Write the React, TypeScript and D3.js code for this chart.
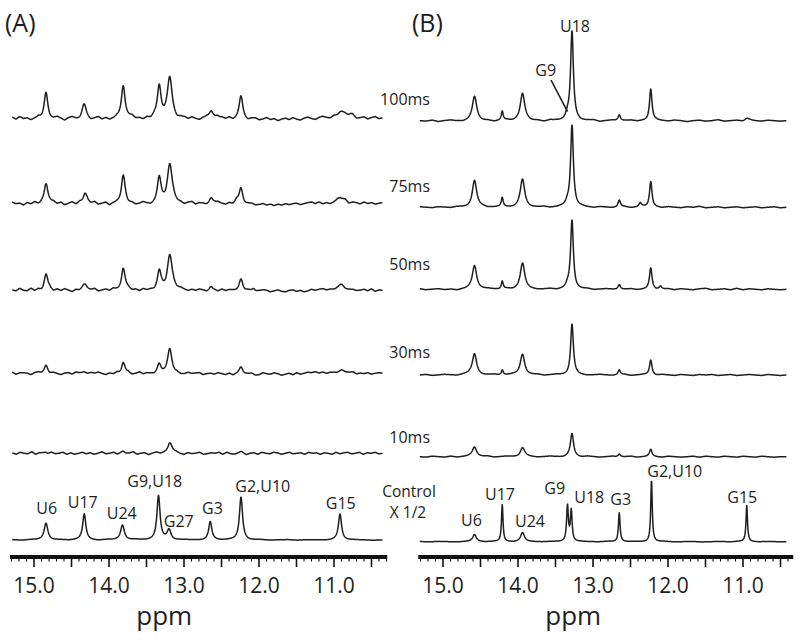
import React from 'react';
import * as d3 from 'd3';

type Peak = [number, number, number]; // [ppm, intensity, half-width (ppm)]

// ---------- Panel A peaks ----------
const peaksA100: Peak[] = [[14.84, 26, 0.03], [14.33, 14, 0.035], [13.81, 34, 0.03], [13.33, 32, 0.03], [13.19, 40, 0.04], [12.64, 8, 0.03], [12.55, 4, 0.03], [12.24, 22, 0.03], [10.91, 7, 0.07], [10.78, 3, 0.04]];
const peaksA75: Peak[] = [[14.84, 22, 0.03], [14.32, 11, 0.035], [13.81, 28, 0.03], [13.33, 25, 0.03], [13.19, 38, 0.04], [12.64, 6, 0.03], [12.30, 3, 0.03], [12.24, 16, 0.03], [10.91, 6, 0.07]];
const peaksA50: Peak[] = [[14.84, 16, 0.03], [14.32, 6, 0.04], [13.81, 22, 0.03], [13.33, 19, 0.03], [13.19, 36, 0.04], [12.64, 4, 0.03], [12.24, 12, 0.03], [12.07, 3, 0.03], [10.91, 5, 0.07]];
const peaksA30: Peak[] = [[14.84, 8, 0.03], [14.33, 2, 0.04], [13.81, 12, 0.03], [13.33, 9, 0.03], [13.19, 24, 0.035], [12.24, 6, 0.03], [10.90, 3, 0.08]];
const peaksA10: Peak[] = [[14.84, 2, 0.03], [13.81, 2, 0.03], [13.19, 11, 0.035], [12.24, 1.5, 0.03]];
const peaksACtrl: Peak[] = [[14.84, 17, 0.03], [14.33, 26, 0.025], [13.82, 15, 0.03], [13.34, 44, 0.025], [13.20, 10, 0.03], [12.65, 18, 0.025], [12.24, 43, 0.025], [10.92, 26, 0.025]];

// ---------- Panel B peaks ----------
const peaksB100: Peak[] = [[14.58, 24, 0.035], [14.21, 9, 0.015], [13.94, 27, 0.035], [13.34, 5, 0.03], [13.28, 89, 0.022], [12.65, 6, 0.02], [12.23, 32, 0.02], [10.95, 2, 0.03]];
const peaksB75: Peak[] = [[14.58, 27, 0.035], [14.21, 9, 0.015], [13.94, 28, 0.035], [13.34, 4, 0.03], [13.28, 82, 0.022], [12.65, 7, 0.02], [12.37, 4, 0.02], [12.23, 26, 0.02]];
const peaksB50: Peak[] = [[14.58, 24, 0.035], [14.21, 8, 0.015], [13.94, 26, 0.035], [13.34, 3, 0.03], [13.28, 69, 0.022], [12.65, 5, 0.02], [12.23, 21, 0.02], [12.10, 3, 0.02]];
const peaksB30: Peak[] = [[14.58, 21, 0.035], [14.21, 5, 0.015], [13.94, 21, 0.035], [13.28, 51, 0.022], [12.65, 5, 0.02], [12.23, 15, 0.02]];
const peaksB10: Peak[] = [[14.58, 10, 0.035], [13.94, 9, 0.035], [13.28, 23, 0.025], [12.65, 3, 0.02], [12.23, 7, 0.02]];
const peaksBCtrl: Peak[] = [[14.58, 7, 0.03], [14.21, 37, 0.012], [13.94, 9, 0.03], [13.34, 36, 0.014], [13.29, 31, 0.014], [12.65, 29, 0.013], [12.22, 62, 0.012], [10.95, 36, 0.012]];

// ---------- Baseline noise (read approximately) ----------
const noiseA100 = [1, -1, 1.5, -0.5, 0, -2, -0.5, 1, -1.5, 0, -2, -1, 1, -0.5, -2.5, 0, 1, -1, -2, 0.5, -1, -2.5, -0.5, 1, -1.5, 0, -2, -1, 0.5, -1, -2, 0, 1.5, -1, -0.5, -2, 0, -1.5, 1, -0.5, -2, -1, 0.5, -1.5, -3, -0.5, 0, -1.5, 0.5, -1, -2, 0, 1, -1.5, -0.5, -2.5, 0, -1, 0.5, -2, -1, 0.5, -1.5, -2.5, -0.5, 0, -2, -1, 0.5, -1.5, -0.5, -2.5, -1, 0, -1.5, 0.5, -1, -2, 0, 1, -0.5, -1.5, 0.5, 1.5, 0, -1, 0.5, -1.5, 0, 1, -0.5, 1.5, -1, 0, 1, -1, 0.5, 1.5, -0.5, 0.5];
const noiseA75 = [1, -0.5, 0, -2, 0.5, -1, 1, -1.5, -0.5, -2.5, 0, 1, -1, 0.5, -2, -0.5, 1, -1.5, 0.5, -2, 0, -1, 1, -1.5, -0.5, 0.5, -2.5, -0.5, 0, -1, 0.5, -1.5, -0.5, -2, -1, 0.5, -1, -2.5, -1.5, 0, -0.5, -2, 0.5, 1, -1, -0.5, -2, 0, 1, -1.5, 0, -0.5, -2, -1, 0.5, 1, -0.5, -1.5, 0, -2, -0.5, -1, -2.5, -1, -0.5, -2, -1.5, -0.5, -2, -1, -2.5, -1, -2, -0.5, -1.5, -0.5, 0, -1.5, -0.5, 0.5, 1, -0.5, 1, -1, 0, -1.5, -0.5, 0.5, -1, 1, -1.5, 0.5, 0, -1, 1, -0.5, 0.5, -1, 0, 0.5];
const noiseA50 = [0, -1, 1.5, -0.5, -1, 1.5, -1, 0.5, -2, 0, 1, -1.5, 0.5, -1, 1, -0.5, -2, 0, -1, 0.5, -1, -0.5, 1, -1.5, -0.5, 0.5, -1, 1, -0.5, -1.5, 0, 1, -1, 0, -1.5, 0.5, -1, -0.5, -2, -1, -0.5, -3, -1.5, 0, -1, 0.5, -0.5, -1.5, 0, -1, 0.5, -0.5, -2, -1, -0.5, -1.5, 0.5, -1, 0, -0.5, -1.5, -1, -2, -0.5, -1.5, -2.5, -1, 0, -0.5, -2, -1, 0, -1.5, -2, -0.5, 0, -1.5, -0.5, -2, -1, 0.5, -0.5, 0.5, 1, -0.5, 0, -1, -0.5, 1, -1, -0.5, 0, -1, -0.5, 0.5, -1, 1, -1.5, 0, -0.5];
const noiseA30 = [1, -1, 0.5, 0.5, 0, -1.5, 0.5, 1, -0.5, 0, -1, 0.5, -0.5, -1.5, 0, 0.5, -1, 1, 0, -0.5, -1, 0.5, 0, 1, -0.5, -1.5, 0, -1, 0.5, -2, -1, 0.5, -1.5, -0.5, 1, -1, 0, -0.5, -1.5, 0, -1, -0.5, 0.5, -1, 0, -1.5, -1, 0.5, -0.5, 0, 0.5, -1.5, -0.5, 0, -1, 0.5, -0.5, -1.5, 0, -2, -0.5, 0.5, -1, -0.5, 0, -2, -1.5, 0.5, -0.5, -1, 0.5, -0.5, -2, -1, 0, -1.5, 0.5, -1, 0, 1, 0.5, 1.5, 0, 1, -0.5, 0.5, 0, -1, 0.5, -0.5, 0, 1, -1, 0, -0.5, 0.5, -1, 0, 0.5, 0];
const noiseA10 = [0.5, -1, 1, 0, -0.5, 1.5, -1, 0.5, 0, -1.5, 1, -0.5, 0, 1, -1, 0.5, -1, 0, 1, -0.5, 0.5, -1, 0, 1.5, -0.5, 0, 1, -1, 0.5, -0.5, 0, 1.5, -1, 0, 0.5, -1.5, 0, 1, -0.5, 0, -1, 0.5, 1, -0.5, -1.5, 0.5, -0.5, 0, 1, -1, -0.5, 0.5, 0, 1, -1, 1, -0.5, -1, 0, 0.5, -1.5, 0, 0.5, -1, 1, 0, -0.5, 1, 0.5, -1, 0, 1, -0.5, 0, 0.5, -1, 1, 0, 0.5, -1, 0.5, 0, -1, 1, -0.5, 0.5, 1, -0.5, 0, 1, -1, 0.5, 0, 1, -0.5, 0];
const noiseACtrl = [0.3, -0.3, 0.4, 0, -0.4, 0.2, -0.3, 0.3, 0, -0.5, 0.3, 0, -0.3, 0.4, -0.2, 0, 0.3, -0.4, 0.2, 0, -0.3, 0.3, -0.2, 0.2, 0, -0.4, 0.3, -0.2, 0, 0.3, -0.3, 0.2, 0, -0.3, 0.3, -0.2, 0.2, 0, -0.3, 0];
const noiseB100 = [0, -0.5, 0.5, -1, 0, 0.5, -0.5, -1, 0, 0.5, -0.5, 0, -1, 0, 0.5, -0.5, 0, 0.5, -0.5, 0, -1, 0.5, 0, -0.5, 0, 0.5, -0.5, 0, 0.5, -1, 0, 0.5, -0.5, 0, 0.5, -0.5, 0, -0.5, 0.5, 0, -0.5, 0.5, 0, -1, 0, 0.5, -0.5, 0, 1, -0.5, 0, 0.5, -0.5, 1, 0, -0.5, 0.5, 0, -0.5, 0];
const noiseB75 = [0.5, 0, -0.5, 0.5, 0, -0.5, 0.5, 0, -0.5, 0, 0.5, -0.5, 0, 0.5, 0, -0.5, 0.5, 0, -0.5, 0, 0.5, -0.5, 0, 0.5, -0.5, 0, 0.5, 0, -0.5, 0.5, 0, -0.5, 0, 0.5, -0.5, 0, 0.5, -0.5, 0, -0.5, 0.5, 0, -0.5, 0.5, 0, 1, -0.5, 0, 0.5, -0.5, 0, 0.5, -0.5, 0, 0.5, -0.5, 0, 0.5, -0.5, 0];
const noiseB50 = [0.5, -0.5, 0, 0.5, -0.5, 0, -1, 0, 0.5, -0.5, 0, 0.5, 0, -0.5, 0.5, -0.5, 0, 0.5, 0, -0.5, 0, 0.5, -0.5, 0, 0.5, -0.5, 0, 0.5, -0.5, 0, 0.5, 0, -0.5, 0, 0.5, -0.5, 0, 0.5, -0.5, 0, 0.5, -0.5, 0.5, 0, -0.5, 0.5, 1, -0.5, 0, 0.5, -0.5, 1, -0.5, 0.5, 0, -0.5, 0.5, 0, -0.5, 0];
const noiseB30 = [0, 0.5, -0.5, 0, 0.5, 0, -0.5, 0.5, 1, 0, -0.5, 0, 0.5, -0.5, 0, 0.5, 0, -0.5, 0, 0.5, -0.5, 0, 0.5, 0, -0.5, 0.5, 0, -0.5, 0, 0.5, 0, -0.5, 0, 0.5, -0.5, 0, 0.5, 0, -0.5, 0.5, 0, -0.5, 0.5, 0, -0.5, 0.5, 0, 0.5, -0.5, 0, 0.5, -0.5, 0, 0.5, 0, -0.5, 0.5, 0, -0.5, 0];
const noiseB10 = [0, -0.5, 0.5, 0, -0.5, 0.5, -0.5, 0, 0.5, -0.5, 0, 0.5, -0.5, 0, 0.5, 0, -0.5, 0.5, 0, -0.5, 0, 0.5, 0, -0.5, 0.5, 0, -0.5, 0.5, 0, -0.5, 0, 0.5, -0.5, 0, 0.5, -0.5, 0, 0.5, 0, -0.5, 0.5, 0, -0.5, 0, 0.5, -0.5, 0.5, 0, -0.5, 0.5, 0, -0.5, 0.5, 0, -0.5, 0.5, 0, -0.5, 0, 0];
const noiseBCtrl = [0.2, -0.2, 0.3, 0, -0.3, 0.2, 0, -0.2, 0.3, 0, -0.3, 0.2, 0, -0.2, 0.2, 0, -0.3, 0.2, 0, -0.2, 0.3, -0.2, 0, 0.2, -0.2, 0, 0.3, -0.2, 0, 0.2, -0.3, 0, 0.2, -0.2, 0.3, 0, -0.2, 0.2, 0, -0.2];

// ---------- Text ----------
const delayLabels = ['100ms', '75ms', '50ms', '30ms', '10ms'];
const tickValues = [15, 14, 13, 12, 11];
const axisTitle = 'ppm';
const panelLabels = ['(A)', '(B)'];
const controlLabel = ['Control', 'X 1/2'];

const assignA = ['U6', 'U17', 'U24', 'G9,U18', 'G27', 'G3', 'G2,U10', 'G15'];
const assignAppm = [14.83, 14.35, 13.83, 13.39, 13.07, 12.62, 11.95, 10.91];
const assignB = ['U6', 'U17', 'U24', 'G9', 'U18', 'G3', 'G2,U10', 'G15'];
const assignBppm = [14.62, 14.24, 13.84, 13.51, 13.05, 12.63, 11.91, 11.01];

const FONT = '"Open Sans", "Noto Sans", sans-serif';
const INK = '#1e1e1e';

function buildTrace(peaks: Peak[], noise: number[], left: number, right: number) {
  const grid = d3.range(left, right, -0.004);
  const n = noise.length - 1;
  return grid.map((p) => {
    const t = ((left - p) / (left - right)) * n;
    const i = Math.min(n - 1, Math.max(0, Math.floor(t)));
    const f = t - i;
    let v = noise[i] * (1 - f) + noise[i + 1] * f;
    for (const [c, h, w] of peaks) {
      const d = (p - c) / w;
      v += h / (1 + d * d);
    }
    return { p, v };
  });
}

function Panel({ x0, traces, baselines, assign, assignPpm, assignDy, ctrlBase, tLeft, tRight, axL, axR, title, extra }: any) {
  const x = d3.scaleLinear().domain([15, 11]).range([x0, x0 + 300]);
  const minor = d3.range(153, 102, -1).map((d) => d / 10).filter((d) => d <= axL && d >= axR);
  const axisY = 557;
  return (
    <g>
      {traces.map((tr: any, k: number) => {
        const y = d3.scaleLinear().domain([0, 100]).range([baselines[k], baselines[k] - 100]);
        const line = d3.line<any>().x((d) => x(d.p)).y((d) => y(d.v));
        return <path key={k} d={line(buildTrace(tr[0], tr[1], tLeft, tRight)) || ''} fill="none" stroke={INK} strokeWidth={1.5} strokeLinejoin="round" />;
      })}
      {assign.map((s: string, k: number) => (
        <text key={s + k} x={x(assignPpm[k])} y={ctrlBase + assignDy[k]} textAnchor="middle" fontSize={16} fontFamily={FONT} fill={INK}>{s}</text>
      ))}
      <line x1={x(axL)} x2={x(axR)} y1={axisY} y2={axisY} stroke="#111" strokeWidth={4} />
      {minor.map((m: number) => {
        const major = Math.abs(m * 2 - Math.round(m * 2)) < 1e-6;
        return <line key={m} x1={x(m)} x2={x(m)} y1={axisY} y2={axisY + (major ? 10 : 4.5)} stroke="#111" strokeWidth={major ? 1.6 : 1.1} />;
      })}
      {tickValues.map((t) => (
        <text key={t} x={x(t)} y={593} textAnchor="middle" fontSize={21} fontFamily={FONT} fill={INK}>{t.toFixed(1)}</text>
      ))}
      <text x={x(13.25) - 1} y={625} textAnchor="middle" fontSize={26} fontFamily={FONT} fill={INK}>{axisTitle}</text>
      <text x={title[1]} y={32} fontSize={25} fontFamily={FONT} fill={INK}>{title[0]}</text>
      {extra ? extra(x) : null}
    </g>
  );
}

export default function App() {
  const basesA = [118.3, 203.3, 290, 373.3, 453.3, 540];
  const basesB = [120.7, 207.3, 289.3, 375, 456.7, 541.7];
  const tracesA = [[peaksA100, noiseA100], [peaksA75, noiseA75], [peaksA50, noiseA50], [peaksA30, noiseA30], [peaksA10, noiseA10], [peaksACtrl, noiseACtrl]];
  const tracesB = [[peaksB100, noiseB100], [peaksB75, noiseB75], [peaksB50, noiseB50], [peaksB30, noiseB30], [peaksB10, noiseB10], [peaksBCtrl, noiseBCtrl]];
  const dyA = [-26, -32.3, -20.7, -53.3, -13.3, -26, -48.3, -30.7];
  const dyB = [-15.7, -41.7, -15, -47.7, -38.4, -36.7, -65, -38.4];
  const delayY = [105, 192, 270, 358, 443];

  return (
    <svg width={800} height={643} style={{ position: 'absolute', left: 0, top: 0, background: '#fff' }}>
      <rect width={800} height={643} fill="#fff" />
      <Panel x0={34} traces={tracesA} baselines={basesA} assign={assignA} assignPpm={assignAppm} assignDy={dyA} ctrlBase={540}
        tLeft={15.29} tRight={10.35} axL={15.32} axR={10.29} title={[panelLabels[0], 5]} />
      <Panel x0={443} traces={tracesB} baselines={basesB} assign={assignB} assignPpm={assignBppm} assignDy={dyB} ctrlBase={541.7}
        tLeft={15.31} tRight={10.42} axL={15.33} axR={10.33} title={[panelLabels[1], 412]}
        extra={(x: any) => (
          <g>
            <text x={x(13.24)} y={32} textAnchor="middle" fontSize={16} fontFamily={FONT} fill={INK}>U18</text>
            <text x={x(13.63)} y={76} textAnchor="middle" fontSize={16} fontFamily={FONT} fill={INK}>G9</text>
            <line x1={x(13.56)} y1={80} x2={x(13.34)} y2={111.7} stroke={INK} strokeWidth={1.6} />
          </g>
        )} />
      {delayLabels.map((s, k) => (
        <text key={s} x={430} y={delayY[k]} textAnchor="end" fontSize={16} fontFamily={FONT} fill={INK}>{s}</text>
      ))}
      <text x={409} y={497} textAnchor="middle" fontSize={15.5} fontFamily={FONT} fill={INK}>{controlLabel[0]}</text>
      <text x={408} y={518} textAnchor="middle" fontSize={15.5} fontFamily={FONT} fill={INK}>{controlLabel[1]}</text>
    </svg>
  );
}
